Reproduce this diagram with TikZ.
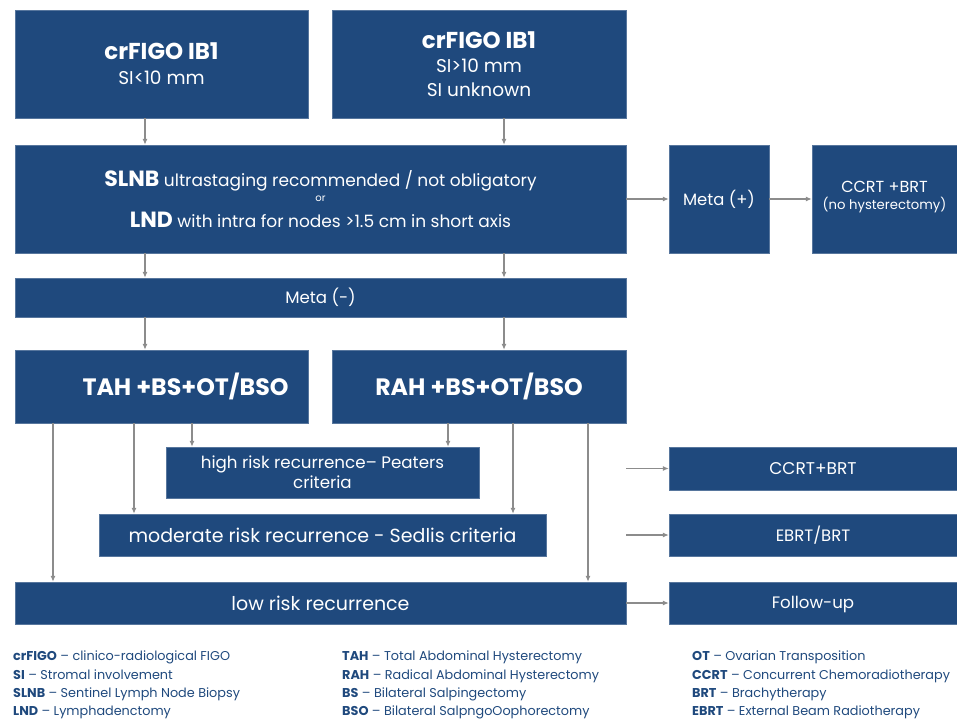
\documentclass[tikz,border=0pt]{standalone}
\usepackage{fontspec}
\setmainfont{Poppins}
\usetikzlibrary{arrows.meta}
\definecolor{boxblue}{HTML}{1F497D}
\definecolor{arrgray}{HTML}{8C8C8C}
\newcommand{\fsz}[2]{\fontsize{#1}{#2}\selectfont}
\begin{document}
\begin{tikzpicture}[x=1pt,y=-1pt,
    box/.style={draw=boxblue!75!white, fill=boxblue, text=white, inner sep=0pt, align=center},
    arr/.style={-{Latex[length=6pt,width=5pt]}, draw=arrgray, line width=1.1pt},
    legend/.style={anchor=north west, inner sep=0pt, align=left, text=boxblue, font=\fsz{12.8}{18.3}}]
    \useasboundingbox (0,0) rectangle (957,722);

    % arrow columns
    \coordinate (cl) at (145,0);
    \coordinate (cr) at (504,0);
    \coordinate (t1) at (53,0);
    \coordinate (t2) at (134,0);
    \coordinate (t3) at (192,0);
    \coordinate (r1) at (448,0);
    \coordinate (r2) at (513,0);
    \coordinate (r3) at (588,0);

    % staging
    \node[box, minimum width=293, minimum height=108, font=\fsz{18.5}{25}] (figoa) at (161.5,64)
        {{\fsz{23}{26}\bfseries crFIGO IB1}\\SI<10 mm};
    \node[box, minimum width=294, minimum height=108, font=\fsz{18.5}{24}] (figob) at (479,64)
        {{\fsz{23}{26}\bfseries crFIGO IB1}\\SI>10 mm\\SI unknown};

    % lymph nodes
    \node[box, minimum width=611, minimum height=108, font=\fsz{17}{15}] (slnb) at (320.5,199)
        {{\fsz{22}{24}\bfseries SLNB} ultrastaging recommended / not obligatory\\
         {\fsz{10}{12}or}\\[10pt]
         {\fsz{22}{24}\bfseries LND} with intra for nodes >1.5 cm in short axis};
    \node[box, minimum width=100, minimum height=108] (metap) at (719,199) {\fsz{16.4}{18}Meta (+)};
    \node[box, minimum width=145, minimum height=108, font=\fsz{16}{19}, text depth=8pt] (ccrta) at (884.5,199)
        {CCRT +BRT\\[-2pt]{\fsz{13.2}{14}(no hysterectomy)}};
    \node[box, minimum width=611, minimum height=39] (metam) at (320.5,297.5) {\fsz{16.6}{18}Meta (-)};

    % surgery
    \node[box, minimum width=293, minimum height=73] (tah) at (161.5,386.5) {};
    \node[text=white, inner sep=0pt] (tahtxt) at ([xshift=24pt]tah.center) {\fsz{23.7}{26}\bfseries TAH +BS+OT/BSO};
    \node[box, minimum width=294, minimum height=73] (rah) at (479,386.5) {\fsz{23.7}{26}\bfseries RAH +BS+OT/BSO};

    % risk groups
    \node[box, minimum width=313, minimum height=51, font=\fsz{16.7}{20}] (high) at (322.5,472.5)
        {high risk recurrence– Peaters\\criteria};
    \node[box, minimum width=447, minimum height=42] (mod) at (322.5,535)
        {\fsz{19}{22}moderate risk recurrence - Sedlis criteria};
    \node[box, minimum width=611, minimum height=42] (low) at (320.5,603)
        {\fsz{19}{22}low risk recurrence};

    % adjuvant
    \node[box, minimum width=288, minimum height=43] (ccrtb) at (813,468.5) {\fsz{17}{20}CCRT+BRT};
    \node[box, minimum width=288, minimum height=42] (ebrt) at (813,535) {\fsz{16.5}{20}EBRT/BRT};
    \node[box, minimum width=288, minimum height=42, text depth=1pt] (fup) at (813,603) {\fsz{16.6}{20}Follow-up};

    % connectors
    \draw[arr] (figoa.south -| cl) -- (slnb.north -| cl);
    \draw[arr] (figob.south -| cr) -- (slnb.north -| cr);
    \draw[arr] (slnb.south -| cl) -- (metam.north -| cl);
    \draw[arr] (slnb.south -| cr) -- (metam.north -| cr);
    \draw[arr] (metam.south -| cl) -- (tah.north -| cl);
    \draw[arr] (metam.south -| cr) -- (rah.north -| cr);
    \draw[arr] (slnb.east) -- (metap.west);
    \draw[arr] (metap.east) -- (ccrta.west);
    \draw[arr] (tah.south -| t1) -- (low.north -| t1);
    \draw[arr] (tah.south -| t2) -- (mod.north -| t2);
    \draw[arr] (tah.south -| t3) -- (high.north -| t3);
    \draw[arr] (rah.south -| r1) -- (high.north -| r1);
    \draw[arr] (rah.south -| r2) -- (mod.north -| r2);
    \draw[arr] (rah.south -| r3) -- (low.north -| r3);
    \draw[arr] (low.east |- ccrtb.west) -- (ccrtb.west);
    \draw[arr] (low.east |- ebrt.west) -- (ebrt.west);
    \draw[arr] (low.east) -- (fup.west);

    % abbreviations
    \node[legend] (lega) at (13,651) {\textbf{crFIGO} – clinico-radiological FIGO\\
        \textbf{SI} – Stromal involvement\\
        \textbf{SLNB} – Sentinel Lymph Node Biopsy\\
        \textbf{LND} – Lymphadenctomy};
    \node[legend] (legb) at (342,651) {\textbf{TAH} – Total Abdominal Hysterectomy\\
        \textbf{RAH} – Radical Abdominal Hysterectomy\\
        \textbf{BS} – Bilateral Salpingectomy\\
        \textbf{BSO} – Bilateral SalpngoOophorectomy};
    \node[legend] (legc) at (692,651) {\textbf{OT} – Ovarian Transposition\\
        \textbf{CCRT} – Concurrent Chemoradiotherapy\\
        \textbf{BRT} – Brachytherapy\\
        \textbf{EBRT} – External Beam Radiotherapy};
\end{tikzpicture}
\end{document}
